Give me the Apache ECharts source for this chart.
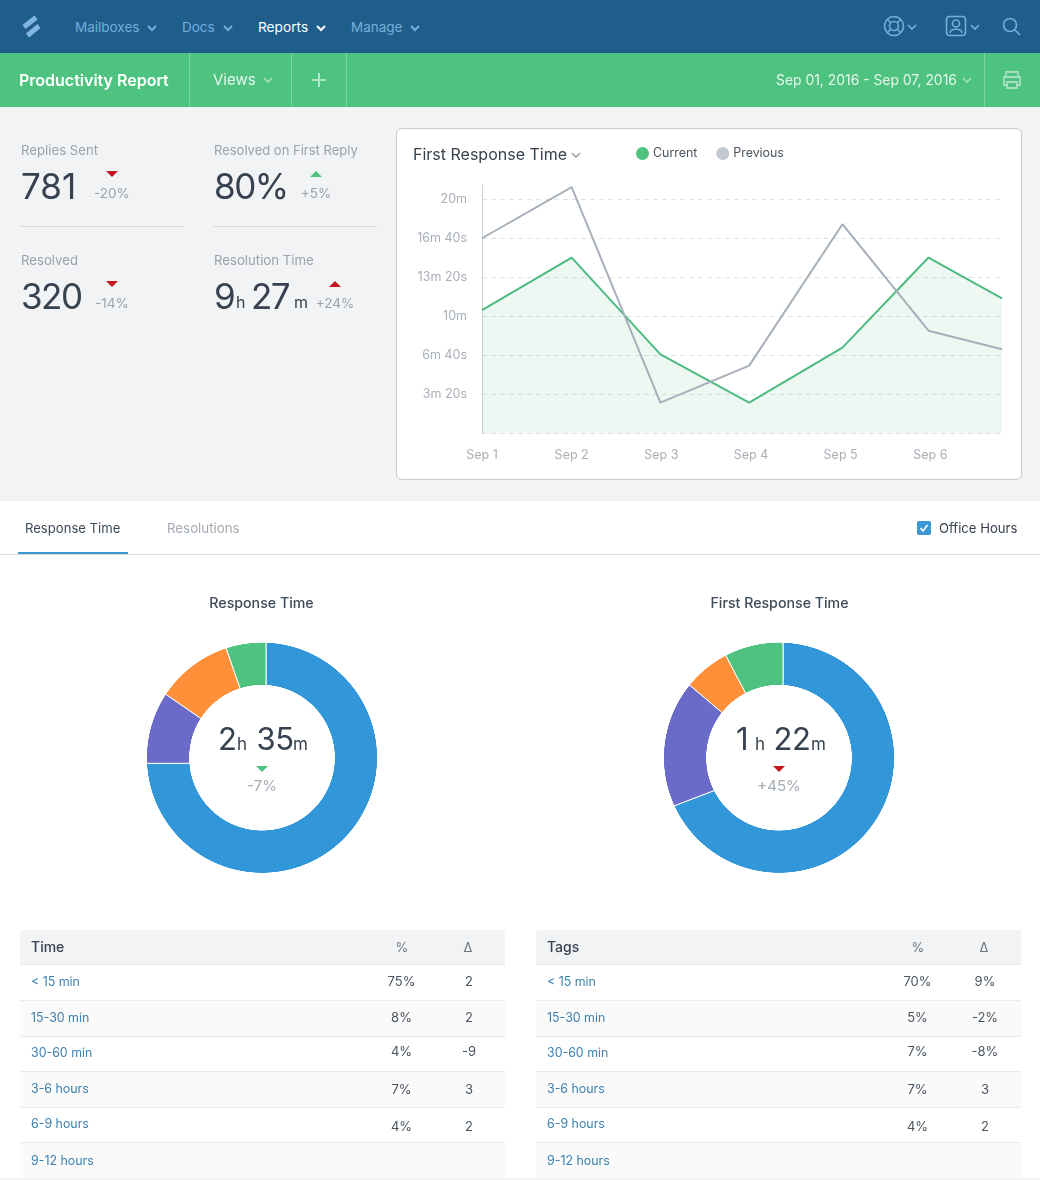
<!DOCTYPE html>
<html>
<head>
<meta charset="utf-8">
<title>Productivity Report</title>
<script src="https://cdn.jsdelivr.net/npm/echarts@6/dist/echarts.min.js"></script>
<style>
html,body{margin:0;padding:0;background:#fff}
#page{position:relative;width:1040px;height:1180px;overflow:hidden;font-family:Inter,"Noto Sans",sans-serif;color:#36424f;background:#fff}
.box{position:absolute}
.t{position:absolute;white-space:nowrap;height:40px;line-height:40px}
.c{transform:translateX(-50%)}
.tri{position:absolute;width:0;height:0;border-left:6px solid transparent;border-right:6px solid transparent}
.down{border-top:6px solid #c5161d}
.up{border-bottom:6px solid #c5161d}
.good{border-top-color:#4dc27f;border-bottom-color:#4dc27f}
svg.ic{position:absolute;overflow:visible;fill:none}
#lineChart,#pieLeft,#pieRight{position:absolute}
/* the ring is not concentric with the wedges in the source, so the pie is cut to it */
#pieLeft,#pieRight{
  -webkit-mask-image:radial-gradient(circle at 130px 129.7px,transparent 72.6px,#000 73.1px,#000 114.8px,transparent 115.3px);
  mask-image:radial-gradient(circle at 130px 129.7px,transparent 72.6px,#000 73.1px,#000 114.8px,transparent 115.3px);
}
</style>
</head>
<body>
<div id="page">
  <div class="box" style="left:0;top:0;width:1040px;height:53px;background:#1f5e8b"></div>
  <div class="box" style="left:0;top:53px;width:1040px;height:54px;background:#4ec27f"></div>
  <div class="box" style="left:189px;top:53px;width:1px;height:54px;background:#7dd3a2"></div>
  <div class="box" style="left:291px;top:53px;width:1px;height:54px;background:#7dd3a2"></div>
  <div class="box" style="left:346px;top:53px;width:1px;height:54px;background:#7dd3a2"></div>
  <div class="box" style="left:984px;top:53px;width:1px;height:54px;background:#7dd3a2"></div>
  <div class="box" style="left:0;top:107px;width:1040px;height:394px;background:#f1f3f5"></div>
  <div class="box" style="left:396px;top:128px;width:624px;height:350px;background:#fff;border:1px solid #c6cbd2;border-radius:6px"></div>
  <div class="box" style="left:20px;top:226px;width:164px;height:1px;background:#d9dde1"></div>
  <div class="box" style="left:213px;top:226px;width:164px;height:1px;background:#d9dde1"></div>
  <div class="box" style="left:0;top:554px;width:1040px;height:1px;background:#d9dcdf"></div>
  <div class="box" style="left:18px;top:552px;width:110px;height:2px;background:#3b97d3"></div>
  <div class="box" style="left:917px;top:521px;width:14px;height:14px;background:#3b97d3;border-radius:2px"></div>
  <div class="box" style="left:0;top:1178px;width:1040px;height:2px;background:#f1f3f5"></div>
  <div id="lineChart" style="left:396px;top:128px;width:626px;height:352px"></div>
  <div id="pieLeft" style="left:132px;top:628px;width:260px;height:260px"></div>
  <div id="pieRight" style="left:649px;top:628px;width:260px;height:260px"></div>
</div>
<script>
// line chart, seconds per day
let dayPositions = [0, 1, 1.99, 2.98, 4.02, 4.98, 5.8];
let dayLabels = ['Sep 1', 'Sep 2', 'Sep 3', 'Sep 4', 'Sep 5', 'Sep 6'];
let currentValues = [631, 901, 405, 157, 439, 901, 692];
let previousValues = [1000, 1262, 157, 347, 1072, 526, 431];
let yTickLabels = ['', '3m 20s', '6m 40s', '10m', '13m 20s', '16m 40s', '20m'];

// donuts, share of the ring
let pieColors = ['#3197d9', '#6a6bc8', '#ff8f38', '#4ec27f'];
let responseShares = [75, 9.6, 10.1, 5.3];
let firstResponseShares = [69.2, 17, 6.1, 7.7];

// tables
let rowLabels = ['< 15 min', '15-30 min', '30-60 min', '3-6 hours', '6-9 hours', '9-12 hours'];
let timePercents = ['75%', '8%', '4%', '7%', '4%'];
let timeDeltas = ['2', '2', '-9', '3', '2'];
let tagPercents = ['70%', '5%', '7%', '7%', '4%'];
let tagDeltas = ['9%', '-2%', '-8%', '3', '2'];

let page = document.getElementById('page');

function text(x, y, str, size, color, extra){
    let el = document.createElement('div');
    el.className = 't';
    el.textContent = str;
    el.style.cssText = 'left:'+x+'px;top:'+(y-20)+'px;font-size:'+size+'px;color:'+color+';'+(extra||'');
    page.appendChild(el);
    return el;
}
function center(x, y, str, size, color, extra){
    let el = text(x, y, str, size, color, extra);
    el.className = 't c';
    return el;
}
function tri(x, y, cls){
    let el = document.createElement('div');
    el.className = 'tri '+cls;
    el.style.left = (x-6)+'px';
    el.style.top = y+'px';
    page.appendChild(el);
}
function icon(body, color, width){
    let ns = 'http://www.w3.org/2000/svg';
    let el = document.createElementNS(ns, 'svg');
    el.setAttribute('class', 'ic');
    el.setAttribute('width', 1040);
    el.setAttribute('height', 1180);
    el.style.left = 0;
    el.style.top = 0;
    el.style.stroke = color;
    el.style.strokeWidth = width;
    el.innerHTML = body;
    page.appendChild(el);
}
function chevron(x, y, color, width){
    icon('<path d="M'+(x-4)+' '+(y-2)+'L'+x+' '+(y+2)+'L'+(x+4)+' '+(y-2)+'"/>', color, width||1.6);
}

// top nav
let navBlue = '#75aedb';
text(75, 27, 'Mailboxes', 13.5, navBlue);
text(182, 27, 'Docs', 13.5, navBlue);
text(258, 27, 'Reports', 13.7, '#fff');
text(351, 27, 'Manage', 13.5, navBlue);
chevron(152, 28, navBlue, 2);
chevron(228, 28, navBlue, 2);
chevron(321, 28, '#fff', 2);
chevron(415, 28, navBlue, 2);
icon('<path d="M24 27L36 17.500M27.500 35.500L39 26"/>', '#7fb5de', 5);
icon('<circle cx="894" cy="26" r="9.5"/><circle cx="894" cy="26" r="4.5"/><path d="M887 19L891 23M901 19L897 23M887 33L891 29M901 33L897 29"/>', '#75aedb', 1.6);
chevron(912, 27, '#75aedb', 1.6);
icon('<rect x="946.500" y="16.500" width="19" height="19" rx="3"/><circle cx="956" cy="23.500" r="3.500"/><path d="M950 33C950 28 962 28 962 33"/>', '#75aedb', 1.6);
chevron(975, 27, '#75aedb', 1.6);
icon('<circle cx="1010" cy="25" r="6.500"/><path d="M1015 30L1020 35"/>', '#75aedb', 1.6);

// green bar
text(19, 80, 'Productivity Report', 16, '#fff', 'font-weight:600');
text(213, 80, 'Views', 15, '#e6f7ee');
chevron(268, 80, '#a5e0bf', 1.6);
icon('<path d="M319 73V87M312 80H326"/>', '#c8eed8', 1.6);
text(776, 80, 'Sep 01, 2016 - Sep 07, 2016', 13.9, '#e6f7ee');
chevron(967, 80, '#a5e0bf', 1.6);
icon('<path d="M1006 77V72H1018V77M1006 85H1004V77H1020V85H1018M1007 82H1017V88H1007Z"/>', '#a5e0bf', 1.8);

// stat blocks
let grey = '#9aa3ad';
let big = 'letter-spacing:-1.5px';
text(21, 150, 'Replies Sent', 13.2, grey);
text(21, 186, '781', 35, '#36424f');
tri(112, 171, 'down');
center(112, 193, '-20%', 13.5, grey);
text(214, 150, 'Resolved on First Reply', 13, grey);
text(214, 186, '80%', 35, '#36424f', big);
tri(316, 171, 'up good');
center(316, 193, '+5%', 13.5, grey);
text(21, 260, 'Resolved', 13.2, grey);
text(21, 296, '320', 35, '#36424f', big);
tri(112, 281, 'down');
center(112, 303, '-14%', 13.5, grey);
text(214, 260, 'Resolution Time', 13.2, grey);
text(214, 296, '9', 35, '#36424f');
text(236, 302, 'h', 16, '#36424f');
text(251, 296, '27', 35, '#36424f', big);
text(294, 302, 'm', 16, '#36424f');
tri(335, 281, 'up');
center(335, 303, '+24%', 13.5, grey);

// card heading
text(413, 154, 'First Response Time', 16, '#36424f');
chevron(576, 155, '#9aa3ad', 1.6);

// tabs
text(25, 528, 'Response Time', 13.1, '#3d4a57');
text(167, 528, 'Resolutions', 13.3, '#a3abb3');
text(939, 528, 'Office Hours', 13.1, '#36424f');
icon('<path d="M920.500 528L923 531L927.500 525"/>', '#fff', 1.6);

// donut headings and centres
center(261.5, 603, 'Response Time', 14.2, '#3d4a57', 'font-weight:500');
center(779.5, 603, 'First Response Time', 14.2, '#3d4a57', 'font-weight:500');
let mid = 'letter-spacing:-0.5px';
text(218, 739, '2', 31, '#36424f');
text(237, 744, 'h', 17, '#36424f');
text(256.5, 739, '35', 31, '#36424f', mid);
text(293, 744, 'm', 17, '#36424f');
tri(262, 766, 'down good');
center(262, 785.5, '-7%', 15, '#a3abb5');
text(736, 739, '1', 31, '#36424f');
text(755, 744, 'h', 17, '#36424f');
text(773.5, 739, '22', 31, '#36424f', mid);
text(811, 744, 'm', 17, '#36424f');
tri(779, 766, 'down');
center(779, 785.5, '+45%', 15, '#a3abb5');

// tables
let rowTops = [965, 1001, 1037, 1072, 1108, 1143];
let rowHeights = [35, 35, 34, 35, 34, 35];
let labelY = [982, 1018, 1053, 1089, 1124, 1161];
let valueY = [981, 1017, 1051, 1089, 1126];
function buildTable(left, heading, percents, deltas){
    let head = document.createElement('div');
    head.className = 'box';
    head.style.cssText = 'left:'+left+'px;top:930px;width:485px;height:34px;background:#f1f3f5;border-radius:4px 4px 0 0;border-bottom:1px solid #e8eaec';
    page.appendChild(head);
    text(left+11, 947, heading, 14, '#36424f', 'font-weight:500');
    center(left+382, 947, '%', 13, '#6c7680');
    center(left+448, 947, 'Δ', 13, '#6c7680');
    rowLabels.forEach((label, i)=>{
        let row = document.createElement('div');
        row.className = 'box';
        let bg = i%2==1 ? 'background:#fafafa;' : '';
        let line = i<5 ? 'border-bottom:1px solid #e8eaec;' : '';
        row.style.cssText = 'left:'+left+'px;top:'+rowTops[i]+'px;width:485px;height:'+rowHeights[i]+'px;'+bg+line;
        page.appendChild(row);
        text(left+11, labelY[i], label, 12.4, '#3f80af');
        if(i<5){
            center(left+381.5, valueY[i], percents[i], 13, '#4a5560');
            center(left+449, valueY[i], deltas[i], 13, '#4a5560');
        }
    });
}
buildTable(20, 'Time', timePercents, timeDeltas);
buildTable(536, 'Tags', tagPercents, tagDeltas);

// charts
function zipDays(values){
    return values.map((v, i)=>[dayPositions[i], v]);
}
let labelStyle = {color:'#a9b0b8', fontSize:12.5, fontFamily:'Inter'};
let lineChart = echarts.init(document.getElementById('lineChart'));
lineChart.setOption({
    animation: false,
    legend: {
        left: 235,
        top: 14,
        itemWidth: 13,
        itemHeight: 13,
        itemGap: 19,
        icon: 'circle',
        textStyle: {color:'#4a5560', fontSize:12.4, fontFamily:'Inter', padding:[0,0,0,-1]},
        data: [
            {name:'Current', itemStyle:{color:'#4ec27f'}},
            {name:'Previous', itemStyle:{color:'#c3c9d1'}}
        ]
    },
    grid: {left:86, top:57, width:520, height:248.3},
    xAxis: {
        type: 'value',
        min: 0,
        max: 5.8,
        interval: 1,
        axisLine: {show:false},
        axisTick: {show:false},
        splitLine: {show:false},
        axisLabel: Object.assign({
            margin: 15,
            showMaxLabel: false,
            formatter: (v)=>dayLabels[v] || ''
        }, labelStyle)
    },
    yAxis: {
        type: 'value',
        min: 0,
        max: 1273,
        interval: 200,
        axisLine: {show:true, lineStyle:{color:'#cdd2d6'}},
        axisTick: {show:false},
        splitLine: {showMaxLine:false, lineStyle:{color:'#dfe3e6', type:[5,4]}},
        axisLabel: Object.assign({
            margin: 15,
            showMaxLabel: false,
            formatter: (v)=>yTickLabels[v/200] || ''
        }, labelStyle)
    },
    series: [
        {
            name: 'Current',
            type: 'line',
            showSymbol: false,
            data: zipDays(currentValues),
            lineStyle: {color:'#4dbb80', width:2},
            itemStyle: {color:'#4ec27f'},
            areaStyle: {color:'#4dbb80', opacity:0.1}
        },
        {
            name: 'Previous',
            type: 'line',
            showSymbol: false,
            data: zipDays(previousValues),
            lineStyle: {color:'#a7afba', width:2},
            itemStyle: {color:'#c3c9d1'}
        }
    ]
});

function createPie(id, shares, cx, cy){
    let myChart = echarts.init(document.getElementById(id));
    myChart.setOption({
        animation: false,
        color: pieColors,
        series: [{
            type: 'pie',
            silent: true,
            radius: [0, 130],
            center: [cx, cy],
            startAngle: 90,
            label: {show:false},
            labelLine: {show:false},
            itemStyle: {borderColor:'#fff', borderWidth:1},
            data: shares.map((v)=>({value:v}))
        }]
    });
}
createPie('pieLeft', responseShares, 134, 135.3);
createPie('pieRight', firstResponseShares, 134, 136.3);
</script>
</body>
</html>
